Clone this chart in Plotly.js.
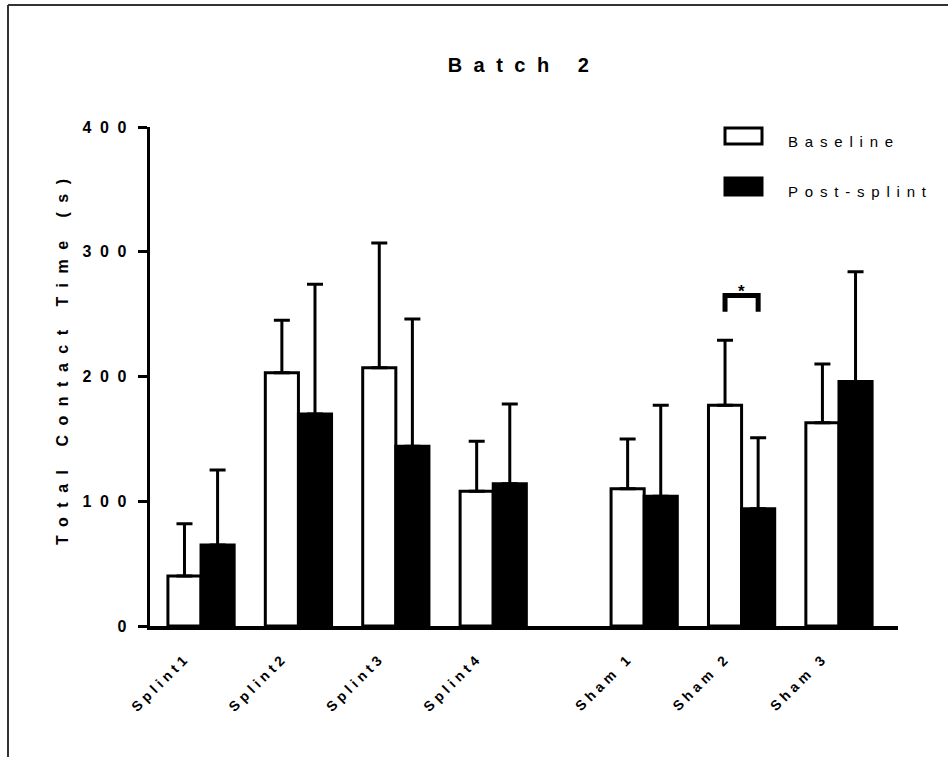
<!DOCTYPE html>
<html>
<head>
<meta charset="utf-8">
<script src="https://cdn.plot.ly/plotly-3.0.1.min.js"></script>
<style>
  html, body { margin: 0; padding: 0; background: #fff; }
  #chart { width: 948px; height: 757px; }
</style>
</head>
<body>
<div id="chart"></div>
<script>
// ---- data ----
const categories = ['Splint1', 'Splint2', 'Splint3', 'Splint4', 'Sham 1', 'Sham 2', 'Sham 3'];
const seriesNames = ['Baseline', 'Post-splint'];
const baselineMean = [40, 203, 207, 108, 110, 177, 163];
const baselineErr  = [42, 42, 100, 40, 40, 52, 47];
const postMean     = [65, 170, 144, 114, 104, 94, 196];
const postErr      = [60, 104, 102, 64, 73, 57, 88];
const sigCategory = 'Sham 2';
const sigLabel = '*';
const yTicks = [0, 100, 200, 300, 400];
const yTitle = 'Total Contact Time (s)';
const chartTitle = 'Batch 2';

// ---- layout helpers ----
const W = 948, H = 757;
const M = { l: 150, r: 50, t: 127, b: 131 };
const PW = W - M.l - M.r, PH = H - M.t - M.b;
const GAP = 0.55; // extra space between Splint and Sham groups
const xPos = categories.map((c, i) => i + (c.startsWith('Sham') ? GAP : 0));
const px2paperX = px => (px - M.l) / PW;
const px2paperY = py => (H - M.b - py) / PH;
const FONT = 'Liberation Sans, Arial, sans-serif';
const spaced = (t, ls, bold) => `<span style="letter-spacing:${ls}px">${bold ? '<b>' + t + '</b>' : t}</span>`;

const zeros = categories.map(() => 0);
const traces = [
  {
    type: 'bar', name: seriesNames[0], x: xPos, y: baselineMean,
    marker: { color: '#ffffff', line: { color: '#000', width: 3 } },
    error_y: { type: 'data', symmetric: false, array: baselineErr, arrayminus: zeros,
               color: '#000', thickness: 3, width: 8 },
    hoverinfo: 'none'
  },
  {
    type: 'bar', name: seriesNames[1], x: xPos, y: postMean,
    marker: { color: '#000000', line: { color: '#000', width: 3 } },
    error_y: { type: 'data', symmetric: false, array: postErr, arrayminus: zeros,
               color: '#000', thickness: 3, width: 8 },
    hoverinfo: 'none'
  }
];

// significance bracket
const si = categories.indexOf(sigCategory);
const halfBar = 0.17;
const bracketTop = 265, bracketLeg = 252;
const shapes = [
  { type: 'path', xref: 'x', yref: 'y',
    path: `M${xPos[si]-halfBar},${bracketLeg} L${xPos[si]-halfBar},${bracketTop} L${xPos[si]+halfBar},${bracketTop} L${xPos[si]+halfBar},${bracketLeg}`,
    line: { color: '#000', width: 5 } },
  // outer frame (top and left edges)
  { type: 'line', xref: 'paper', yref: 'paper', x0: px2paperX(8), x1: px2paperX(960), y0: px2paperY(5), y1: px2paperY(5),
    line: { color: '#333', width: 2 } },
  { type: 'line', xref: 'paper', yref: 'paper', x0: px2paperX(8), x1: px2paperX(8), y0: px2paperY(5), y1: px2paperY(770),
    line: { color: '#333', width: 2 } },
  // legend swatches
  { type: 'rect', xref: 'paper', yref: 'paper', x0: px2paperX(725), x1: px2paperX(762), y0: px2paperY(128), y1: px2paperY(144),
    line: { color: '#000', width: 3 }, fillcolor: '#fff' },
  { type: 'rect', xref: 'paper', yref: 'paper', x0: px2paperX(725), x1: px2paperX(762), y0: px2paperY(178), y1: px2paperY(195),
    line: { color: '#000', width: 3 }, fillcolor: '#000' }
];

const annotations = [
  { xref: 'x', yref: 'y', x: xPos[si], y: bracketTop, text: '<b>' + sigLabel + '</b>', showarrow: false,
    yanchor: 'bottom', yshift: -8, font: { family: FONT, size: 17, color: '#000' } },
  { xref: 'paper', yref: 'paper', x: px2paperX(786), y: px2paperY(141), text: spaced(seriesNames[0], 6.8, false), showarrow: false,
    xanchor: 'left', yanchor: 'middle', font: { family: FONT, size: 15, color: '#000' } },
  { xref: 'paper', yref: 'paper', x: px2paperX(786), y: px2paperY(191), text: spaced(seriesNames[1], 6.8, false), showarrow: false,
    xanchor: 'left', yanchor: 'middle', font: { family: FONT, size: 15, color: '#000' } },
  // y-axis title
  { xref: 'paper', yref: 'paper', x: px2paperX(62), y: px2paperY(357), text: spaced(yTitle, 9.5, true), showarrow: false,
    textangle: -90, xanchor: 'center', yanchor: 'middle', font: { family: FONT, size: 16, color: '#000' } }
];

const layout = {
  width: W, height: H,
  margin: M,
  paper_bgcolor: '#fff', plot_bgcolor: '#fff',
  showlegend: false,
  barmode: 'group', bargap: 0.32, bargroupgap: 0,
  font: { family: FONT, color: '#000' },
  title: { text: spaced(chartTitle, 11.5, true), x: 0.5, xref: 'paper', xanchor: 'center', y: 1 - 65 / H, yanchor: 'middle',
           font: { family: FONT, size: 20, color: '#000' } },
  xaxis: {
    range: [-0.524, 7.156], tickvals: xPos, ticktext: categories.map(c => spaced(c, 4.2, true)),
    tickangle: -45, ticks: '', showgrid: false, zeroline: false, ticklabelshift: -15, ticklabelstandoff: 14,
    showline: true, linecolor: '#000', linewidth: 4,
    tickfont: { family: FONT, size: 14, color: '#000' }
  },
  yaxis: {
    range: [0, 400], tickvals: yTicks, ticktext: yTicks.map(v => spaced(String(v), 8.5, true)),
    ticks: 'outside', ticklen: 9, tickwidth: 3, tickcolor: '#000',
    showgrid: false, zeroline: false, showline: true, linecolor: '#000', linewidth: 3,
    tickfont: { family: FONT, size: 16, color: '#000' }
  },
  shapes: shapes,
  annotations: annotations
};

Plotly.newPlot('chart', traces, layout, { staticPlot: true, displayModeBar: false });
</script>
</body>
</html>
